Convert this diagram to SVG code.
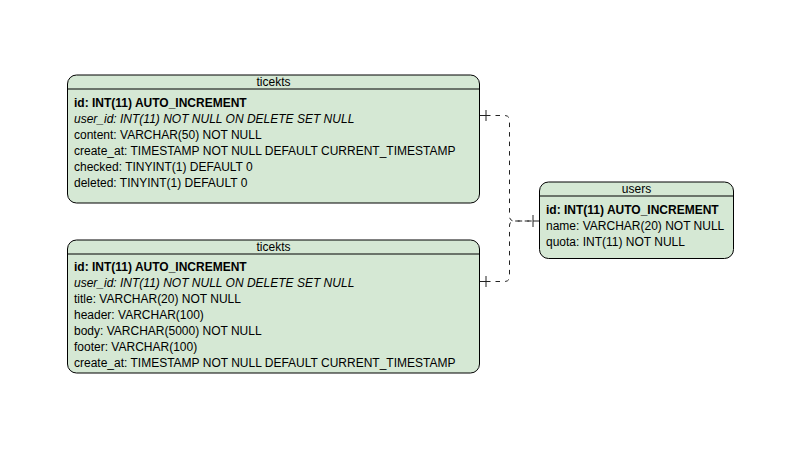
<svg xmlns="http://www.w3.org/2000/svg" width="786" height="454" viewBox="0 0 786 454">
<style>
.box{fill:#d5e8d4;stroke:#000;stroke-width:1}
.sep{stroke:#000;stroke-width:1}
text{font-family:"Liberation Sans",Arial,sans-serif;font-size:12px;fill:#000}
.h{text-anchor:middle}
.b{font-weight:bold}
.i{font-style:italic}
.conn{fill:none;stroke:#222;stroke-width:1;stroke-dasharray:4.5 5}
.bar{stroke:#222;stroke-width:1}
.solid{fill:none;stroke:#222;stroke-width:1}
</style>
<rect width="786" height="454" fill="#fff"/>
<g id="connectors">
<path class="conn" d="M486,115.5 L504.5,115.5 Q509.5,115.5 509.5,120.5 L509.5,216 Q509.5,221 514.5,221 L533,221"/>
<path class="conn" d="M486,281.5 L504.5,281.5 Q509.5,281.5 509.5,276.5 L509.5,226 Q509.5,221 514.5,221 L533,221"/>
<path class="solid" d="M479.5,115.5 H486 M479.5,281.5 H486 M533,221 H539.5"/>
<line class="bar" x1="486" y1="110" x2="486" y2="121"/>
<line class="bar" x1="486" y1="276" x2="486" y2="287"/>
<line class="bar" x1="533" y1="215" x2="533" y2="227"/>
</g>
<g id="ticekts1">
<rect class="box" x="67.5" y="75" width="412" height="128" rx="9"/>
<line class="sep" x1="67.5" y1="89" x2="479.5" y2="89"/>
<text class="h" x="273.5" y="86">ticekts</text>
<text class="b" x="74" y="106.5">id: INT(11) AUTO_INCREMENT</text>
<text class="i" x="74" y="122.5">user_id: INT(11) NOT NULL ON DELETE SET NULL</text>
<text x="74" y="138.5">content: VARCHAR(50) NOT NULL</text>
<text x="74" y="154.5">create_at: TIMESTAMP NOT NULL DEFAULT CURRENT_TIMESTAMP</text>
<text x="74" y="170.5">checked: TINYINT(1) DEFAULT 0</text>
<text x="74" y="186.5">deleted: TINYINT(1) DEFAULT 0</text>
</g>
<g id="ticekts2">
<rect class="box" x="67.5" y="240" width="412" height="133" rx="9"/>
<line class="sep" x1="67.5" y1="254" x2="479.5" y2="254"/>
<text class="h" x="273.5" y="251">ticekts</text>
<text class="b" x="74" y="271">id: INT(11) AUTO_INCREMENT</text>
<text class="i" x="74" y="287">user_id: INT(11) NOT NULL ON DELETE SET NULL</text>
<text x="74" y="303">title: VARCHAR(20) NOT NULL</text>
<text x="74" y="319">header: VARCHAR(100)</text>
<text x="74" y="335">body: VARCHAR(5000) NOT NULL</text>
<text x="74" y="351">footer: VARCHAR(100)</text>
<text x="74" y="367">create_at: TIMESTAMP NOT NULL DEFAULT CURRENT_TIMESTAMP</text>
</g>
<g id="users">
<rect class="box" x="539.5" y="182" width="194" height="76.5" rx="9"/>
<line class="sep" x1="539.5" y1="196" x2="733.5" y2="196"/>
<text class="h" x="636.5" y="193">users</text>
<text class="b" x="546" y="214">id: INT(11) AUTO_INCREMENT</text>
<text x="546" y="230">name: VARCHAR(20) NOT NULL</text>
<text x="546" y="246">quota: INT(11) NOT NULL</text>
</g>
</svg>
